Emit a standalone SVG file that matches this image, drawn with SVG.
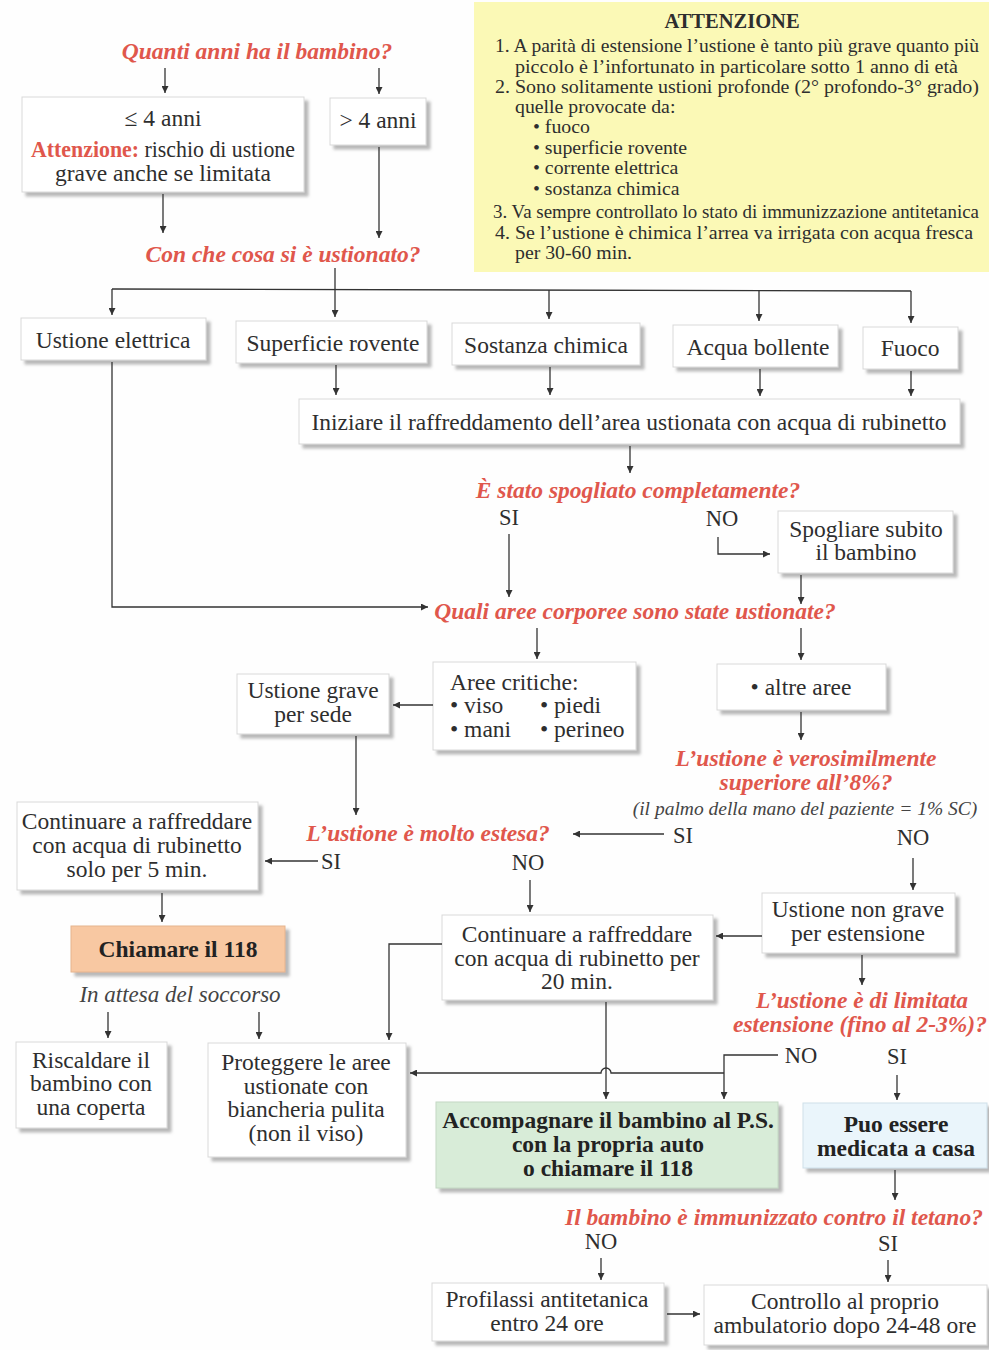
<svg xmlns="http://www.w3.org/2000/svg" width="989" height="1350" viewBox="0 0 989 1350">
<defs>
<filter id="sh" x="-10%" y="-10%" width="130%" height="140%">
<feDropShadow dx="4" dy="4" stdDeviation="1.6" flood-color="#8a8a8a" flood-opacity="0.6"/>
</filter>
<marker id="ar" viewBox="0 0 10 10" refX="10" refY="5" markerWidth="9" markerHeight="7" markerUnits="userSpaceOnUse" orient="auto">
<path d="M0,0 L10,5 L0,10 z" fill="#333"/>
</marker>
<style>
text{font-family:"Liberation Serif","Times New Roman",serif;fill:#2e2e2e;}
.t{font-size:23.5px;text-anchor:middle;}
.tl{font-size:23.5px;}
.q{font-size:23.5px;font-weight:bold;font-style:italic;fill:#e0574c;text-anchor:middle;}
.b{font-size:23.5px;font-weight:bold;text-anchor:middle;fill:#222;}
.a{font-size:19.8px;}
.al{font-size:19px;}
.lab{font-size:22.5px;text-anchor:middle;}
.box{fill:#fff;stroke:#d9d9d9;stroke-width:1;filter:url(#sh);}
.c line,.c path,.c polyline{stroke:#333;stroke-width:1.3;fill:none;}
.arr{marker-end:url(#ar);}
</style>
</defs>
<rect width="989" height="1350" fill="#fefefe"/>

<g id="attenzione">
<rect x="474" y="2" width="515" height="270" fill="#fbf9b6"/>
<text x="732" y="28" class="a" style="font-weight:bold;text-anchor:middle;font-size:20.5px">ATTENZIONE</text>
<text x="495" y="52" class="al" textLength="484" lengthAdjust="spacingAndGlyphs">1. A parità di estensione l’ustione è tanto più grave quanto più</text>
<text x="515" y="73" class="al" textLength="443" lengthAdjust="spacingAndGlyphs">piccolo è l’infortunato in particolare sotto 1 anno di età</text>
<text x="495" y="93" class="al" textLength="484" lengthAdjust="spacingAndGlyphs">2. Sono solitamente ustioni profonde (2° profondo-3° grado)</text>
<text x="515" y="113" class="a">quelle provocate da:</text>
<text x="533" y="133" class="a">• fuoco</text>
<text x="533" y="154" class="a">• superficie rovente</text>
<text x="533" y="174" class="a">• corrente elettrica</text>
<text x="533" y="195" class="a">• sostanza chimica</text>
<text x="493" y="218" class="al" textLength="486" lengthAdjust="spacingAndGlyphs">3. Va sempre controllato lo stato di immunizzazione antitetanica</text>
<text x="495" y="239" class="al" textLength="478" lengthAdjust="spacingAndGlyphs">4. Se l’ustione è chimica l’arrea va irrigata con acqua fresca</text>
<text x="515" y="259" class="a">per 30-60 min.</text>
</g>

<g id="q-anni"><text x="257" y="59" class="q">Quanti anni ha il bambino?</text></g>

<g id="n-le4">
<rect x="22" y="97" width="282" height="95" class="box"/>
<text x="163" y="126" class="t">≤ 4 anni</text>
<text x="163" y="157" class="t" textLength="264" lengthAdjust="spacingAndGlyphs"><tspan style="fill:#e0574c;font-weight:bold">Attenzione:</tspan> rischio di ustione</text>
<text x="163" y="181" class="t">grave anche se limitata</text>
</g>

<g id="n-gt4">
<rect x="330" y="98" width="96" height="47" class="box"/>
<text x="378" y="128" class="t">&gt; 4 anni</text>
</g>

<g id="q-cosa"><text x="283" y="262" class="q">Con che cosa si è ustionato?</text></g>

<g id="n-elettrica"><rect x="21" y="318" width="185" height="42" class="box"/><text x="113" y="348" class="t">Ustione elettrica</text></g>
<g id="n-superficie"><rect x="236" y="321" width="191" height="42" class="box"/><text x="333" y="351" class="t">Superficie rovente</text></g>
<g id="n-chimica"><rect x="452" y="323" width="188" height="42" class="box"/><text x="546" y="353" class="t">Sostanza chimica</text></g>
<g id="n-acqua"><rect x="673" y="325" width="165" height="42" class="box"/><text x="758" y="355" class="t">Acqua bollente</text></g>
<g id="n-fuoco"><rect x="863" y="327" width="95" height="42" class="box"/><text x="910" y="356" class="t">Fuoco</text></g>

<g id="n-iniziare"><rect x="299" y="399" width="661" height="45" class="box"/><text x="629" y="430" class="t">Iniziare il raffreddamento dell’area ustionata con acqua di rubinetto</text></g>

<g id="q-spogliato">
<text x="638" y="498" class="q">È stato spogliato completamente?</text>
<text x="509" y="525" class="lab">SI</text>
<text x="722" y="526" class="lab">NO</text>
</g>

<g id="n-spogliare"><rect x="778" y="511" width="175" height="62" class="box"/><text x="866" y="537" class="t">Spogliare subito</text><text x="866" y="560" class="t">il bambino</text></g>

<g id="q-aree"><text x="635" y="619" class="q">Quali aree corporee sono state ustionate?</text></g>

<g id="n-critiche">
<rect x="433" y="662" width="203" height="88" class="box"/>
<text x="450" y="690" class="tl">Aree critiche:</text>
<text x="450" y="713" class="tl">• viso</text>
<text x="540" y="713" class="tl">• piedi</text>
<text x="450" y="737" class="tl">• mani</text>
<text x="540" y="737" class="tl">• perineo</text>
</g>

<g id="n-altre"><rect x="717" y="664" width="169" height="46" class="box"/><text x="801" y="695" class="t">• altre aree</text></g>

<g id="n-grave-sede"><rect x="237" y="674" width="152" height="60" class="box"/><text x="313" y="698" class="t">Ustione grave</text><text x="313" y="722" class="t">per sede</text></g>

<g id="q-verosimile">
<text x="806" y="766" class="q">L’ustione è verosimilmente</text>
<text x="806" y="790" class="q">superiore all’8%?</text>
<text x="805" y="815" style="font-size:19.5px;font-style:italic;text-anchor:middle;fill:#444">(il palmo della mano del paziente = 1% SC)</text>
<text x="683" y="843" class="lab">SI</text>
<text x="913" y="845" class="lab">NO</text>
</g>

<g id="q-estesa">
<text x="428" y="841" class="q">L’ustione è molto estesa?</text>
<text x="331" y="869" class="lab">SI</text>
<text x="528" y="870" class="lab">NO</text>
</g>

<g id="n-cont5"><rect x="17" y="802" width="241" height="88" class="box"/><text x="137" y="829" class="t">Continuare a raffreddare</text><text x="137" y="853" class="t">con acqua di rubinetto</text><text x="137" y="877" class="t">solo per 5 min.</text></g>

<g id="n-nongrave"><rect x="762" y="893" width="193" height="60" class="box"/><text x="858" y="917" class="t">Ustione non grave</text><text x="858" y="941" class="t">per estensione</text></g>

<g id="n-cont20"><rect x="442" y="915" width="271" height="85" class="box"/><text x="577" y="942" class="t">Continuare a raffreddare</text><text x="577" y="966" class="t">con acqua di rubinetto per</text><text x="577" y="989" class="t">20 min.</text></g>

<g id="n-118"><rect x="71" y="926" width="214" height="46" fill="#f8c8a2" stroke="#e6b48e" stroke-width="1" filter="url(#sh)"/><text x="178" y="957" class="b">Chiamare il 118</text></g>

<g id="l-attesa"><text x="180" y="1002" style="font-size:23px;font-style:italic;text-anchor:middle;fill:#444">In attesa del soccorso</text></g>

<g id="n-riscaldare"><rect x="16" y="1042" width="151" height="86" class="box"/><text x="91" y="1068" class="t">Riscaldare il</text><text x="91" y="1091" class="t">bambino con</text><text x="91" y="1115" class="t">una coperta</text></g>

<g id="n-proteggere"><rect x="208" y="1043" width="198" height="114" class="box"/><text x="306" y="1070" class="t">Proteggere le aree</text><text x="306" y="1094" class="t">ustionate con</text><text x="306" y="1117" class="t">biancheria pulita</text><text x="306" y="1141" class="t">(non il viso)</text></g>

<g id="q-limitata">
<text x="862" y="1008" class="q">L’ustione è di limitata</text>
<text x="860" y="1032" class="q">estensione (fino al 2-3%)?</text>
<text x="801" y="1063" class="lab">NO</text>
<text x="897" y="1064" class="lab">SI</text>
</g>

<g id="n-accompagnare"><rect x="436" y="1102" width="342" height="86" fill="#d8ecd8" stroke="#c4d8c4" stroke-width="1" filter="url(#sh)"/><text x="608" y="1128" class="b">Accompagnare il bambino al P.S.</text><text x="608" y="1152" class="b">con la propria auto</text><text x="608" y="1176" class="b">o chiamare il 118</text></g>

<g id="n-casa"><rect x="803" y="1103" width="184" height="65" fill="#eaf5fb" stroke="#cfe0ea" stroke-width="1" filter="url(#sh)"/><text x="896" y="1132" class="b">Puo essere</text><text x="896" y="1156" class="b">medicata a casa</text></g>

<g id="q-tetano">
<text x="774" y="1225" class="q">Il bambino è immunizzato contro il tetano?</text>
<text x="601" y="1249" class="lab">NO</text>
<text x="888" y="1251" class="lab">SI</text>
</g>

<g id="n-profilassi"><rect x="432" y="1283" width="232" height="58" class="box"/><text x="547" y="1307" class="t">Profilassi antitetanica</text><text x="547" y="1331" class="t">entro 24 ore</text></g>

<g id="n-controllo"><rect x="704" y="1285" width="283" height="60" class="box"/><text x="845" y="1309" class="t">Controllo al proprio</text><text x="845" y="1333" class="t">ambulatorio dopo 24-48 ore</text></g>

<g id="connectors" class="c">
<line x1="165" y1="68" x2="165" y2="93" class="arr"/>
<line x1="379" y1="68" x2="379" y2="94" class="arr"/>
<line x1="163" y1="194" x2="163" y2="233" class="arr"/>
<line x1="379" y1="147" x2="379" y2="238" class="arr"/>
<polyline points="335,268 335,289"/>
<line x1="112" y1="289" x2="911" y2="291"/>
<line x1="112" y1="289" x2="112" y2="315" class="arr"/>
<line x1="335" y1="289" x2="335" y2="317" class="arr"/>
<line x1="549" y1="290" x2="549" y2="319" class="arr"/>
<line x1="759" y1="290" x2="759" y2="321" class="arr"/>
<line x1="911" y1="291" x2="911" y2="323" class="arr"/>
<line x1="336" y1="365" x2="336" y2="395" class="arr"/>
<line x1="550" y1="367" x2="550" y2="395" class="arr"/>
<line x1="760" y1="369" x2="760" y2="396" class="arr"/>
<line x1="911" y1="371" x2="911" y2="396" class="arr"/>
<line x1="630" y1="446" x2="630" y2="473" class="arr"/>
<line x1="509" y1="534" x2="509" y2="597" class="arr"/>
<polyline points="718,537 718,554 770,554" class="arr"/>
<line x1="801" y1="575" x2="801" y2="604" class="arr"/>
<polyline points="112,362 112,607 428,607" class="arr"/>
<line x1="537" y1="628" x2="537" y2="659" class="arr"/>
<line x1="801" y1="628" x2="801" y2="660" class="arr"/>
<line x1="433" y1="705" x2="393" y2="705" class="arr"/>
<line x1="356" y1="736" x2="356" y2="815" class="arr"/>
<line x1="801" y1="712" x2="801" y2="740" class="arr"/>
<line x1="664" y1="834" x2="573" y2="834" class="arr"/>
<line x1="318" y1="861" x2="265" y2="861" class="arr"/>
<line x1="913" y1="858" x2="913" y2="890" class="arr"/>
<line x1="530" y1="880" x2="530" y2="912" class="arr"/>
<line x1="762" y1="936" x2="716" y2="936" class="arr"/>
<line x1="162" y1="893" x2="162" y2="922" class="arr"/>
<line x1="108" y1="1012" x2="108" y2="1038" class="arr"/>
<line x1="259" y1="1012" x2="259" y2="1039" class="arr"/>
<polyline points="442,944 389,944 389,1040" class="arr"/>
<line x1="862" y1="955" x2="862" y2="985" class="arr"/>
<line x1="606" y1="1002" x2="606" y2="1099" class="arr"/>
<polyline points="778,1055 724,1055 724,1099" class="arr"/>
<path d="M724,1073 H611 a5,5 0 0 0 -10,0 H410" class="arr"/>
<line x1="897" y1="1075" x2="897" y2="1100" class="arr"/>
<line x1="895" y1="1170" x2="895" y2="1200" class="arr"/>
<line x1="601" y1="1258" x2="601" y2="1280" class="arr"/>
<line x1="888" y1="1260" x2="888" y2="1282" class="arr"/>
<line x1="667" y1="1314" x2="700" y2="1314" class="arr"/>
</g>
</svg>
